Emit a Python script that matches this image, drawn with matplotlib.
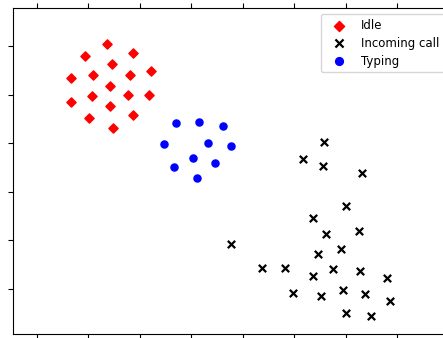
import matplotlib
matplotlib.use('Agg')
import matplotlib.pyplot as plt
from matplotlib.ticker import MultipleLocator

idle_x = [1.36, 0.93, 1.86, 1.46, 0.66, 1.09, 1.81, 2.21, 1.42, 1.07, 1.77, 2.17, 0.66, 1.42, 1.01, 1.86, 1.48]
idle_y = [5.04, 4.79, 4.86, 4.63, 4.34, 4.40, 4.40, 4.49, 4.18, 3.97, 3.99, 3.99, 3.85, 3.77, 3.52, 3.58, 3.31]

typing_x = [2.70, 3.15, 3.61, 2.47, 3.32, 3.77, 3.03, 2.66, 3.46, 3.11]
typing_y = [3.42, 3.44, 3.35, 2.98, 3.00, 2.94, 2.70, 2.51, 2.59, 2.28]

call_x = [5.57, 5.17, 5.55, 6.31, 6.00, 5.36, 5.61, 6.25, 3.77, 5.90, 5.46, 4.37,
          4.82, 5.75, 6.27, 5.36, 6.80, 4.97, 5.51, 5.94, 6.37, 6.85, 6.00, 6.49]
call_y = [3.02, 2.67, 2.53, 2.39, 1.71, 1.46, 1.13, 1.19, 0.93, 0.82, 0.72, 0.43,
          0.43, 0.41, 0.37, 0.27, 0.23, -0.08, -0.14, -0.02, -0.10, -0.25, -0.49, -0.56]

fig = plt.figure(figsize=(4.43, 3.38), dpi=100)
# axes run past the right edge of the picture, like the cropped original
ax = fig.add_axes([13/443, 4/338, 437/443, 326/338])

ax.scatter(idle_x, idle_y, marker='D', color='red', s=22, label='Idle')
ax.scatter(call_x, call_y, marker='x', color='black', s=28, linewidths=1.6, label='Incoming call')
ax.scatter(typing_x, typing_y, marker='o', color='blue', s=26, label='Typing')

ax.set_xlim(-0.466, 8.02)
ax.set_ylim(-0.926, 5.78)
ax.xaxis.set_major_locator(MultipleLocator(1))
ax.yaxis.set_major_locator(MultipleLocator(1))
ax.tick_params(direction='out', top=True, right=True, labelbottom=False, labelleft=False)

ax.legend(loc='upper right', fontsize=8.5, scatterpoints=1, labelspacing=0.42,
          handlelength=2.2, markerscale=1.1)

fig.savefig('out.png', dpi=100)
